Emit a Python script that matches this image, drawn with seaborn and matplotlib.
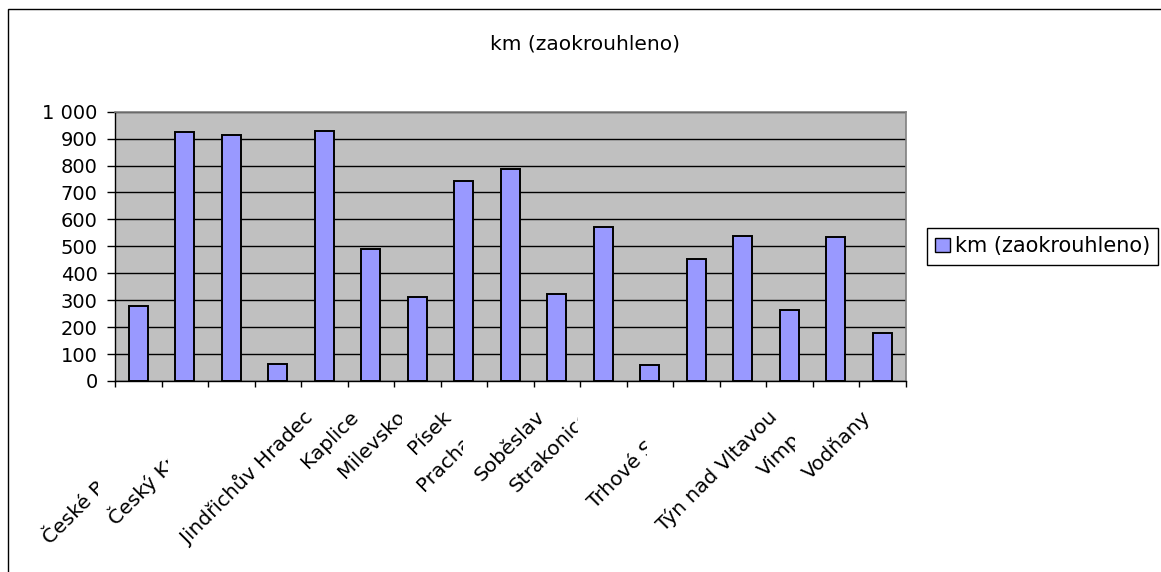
import numpy as np
import pandas as pd
import matplotlib
matplotlib.use("Agg")
import matplotlib.pyplot as plt
import seaborn as sns
from matplotlib.patches import Patch, Rectangle
from matplotlib.transforms import Bbox, offset_copy

# ---------------- data ----------------
categories = ["Blatná", "České Budějovice", "Český Krumlov", "Dačice",
              "Jindřichův Hradec", "Kaplice", "Milevsko", "Písek",
              "Prachatice", "Soběslav", "Strakonice", "Tábor",
              "Trhové Sviny", "Třeboň", "Týn nad Vltavou", "Vimperk", "Vodňany"]
km = [280, 924, 912, 62, 929, 491, 313, 743, 787, 322, 573, 61, 453, 538, 264, 536, 179]
y_ticks = [0, 100, 200, 300, 400, 500, 600, 700, 800, 900, 1000]
series_name = "km (zaokrouhleno)"
title = "km (zaokrouhleno)"

# ---------------- style ----------------
sns.set_theme(style="white")
plt.rcParams["font.family"] = ["DejaVu Sans"]

W, H = 1161, 572
fig = plt.figure(figsize=(W / 100, H / 100), dpi=100)
ax = fig.add_axes([115 / W, 1 - 381 / H, (905.7 - 115) / W, (381 - 111.7) / H])

df = pd.DataFrame({"ORP": categories, "km": km})
sns.barplot(data=df, x="ORP", y="km", order=categories, color="#9999FF",
            saturation=1, edgecolor="black", linewidth=1.4, width=0.41, ax=ax)

ax.set_facecolor("#C0C0C0")
ax.set_xlim(-0.5, len(categories) - 0.5)
ax.set_ylim(0, 1000)
ax.set_yticks(y_ticks)
ax.set_yticklabels([f"{v:,}".replace(",", " ") for v in y_ticks])
ax.set_xticks(np.arange(-0.5, len(categories), 1.0))
ax.set_xticklabels([])
ax.set_xlabel("")
ax.set_ylabel("")
ax.yaxis.grid(True, color="black", linewidth=1.0)
ax.xaxis.grid(False)
ax.set_axisbelow(True)
ax.tick_params(axis="y", left=True, direction="out", length=5.5, width=1,
               color="black", pad=7, labelsize=14, labelcolor="black")
ax.tick_params(axis="x", bottom=True, direction="out", length=4.6, width=1,
               color="black")
for s in ["top", "right"]:
    ax.spines[s].set_color("#808080")
    ax.spines[s].set_linewidth(1.2)
for s in ["left", "bottom"]:
    ax.spines[s].set_color("black")
    ax.spines[s].set_linewidth(1.0)

# category labels (rotated, some truncated / hidden as in the original)
hidden = {0, 3, 11, 13}
clip_px = {1: 98, 2: 168, 6: 402, 8: 463, 10: 578, 12: 647, 15: 795}
tr = offset_copy(ax.get_xaxis_transform(), fig=fig, x=-22, y=-26, units="dots")
for i, name in enumerate(categories):
    if i in hidden:
        continue
    t = fig.text(i, 0, name, transform=tr, rotation=45, rotation_mode="anchor",
                 ha="right", va="top", fontsize=14.5, color="black")
    if i in clip_px:
        t.set_clip_box(Bbox([[0, 0], [clip_px[i], H]]))
        t.set_clip_on(True)

# title
fig.text(585 / W, 1 - 44 / H, title, ha="center", va="center", fontsize=14.5,
         color="black")

# legend
leg = fig.legend(handles=[Patch(facecolor="#9999FF", edgecolor="black", linewidth=1)],
                 labels=[series_name], loc="upper left",
                 bbox_to_anchor=(926.7 / W, 1 - 228 / H), bbox_transform=fig.transFigure,
                 frameon=True, fancybox=False, edgecolor="black", framealpha=1,
                 fontsize=15, handlelength=0.7, handleheight=0.7, handletextpad=0.25,
                 borderpad=0.4, borderaxespad=0)
leg.get_frame().set_linewidth(1.0)
for txt in leg.get_texts():
    txt.set_color("black")

# outer chart border (only left/top visible in the original crop)
fig.add_artist(Rectangle((8 / W, -0.5), 2, (1 - 9 / H) + 0.5, transform=fig.transFigure,
                         fill=False, edgecolor="black", linewidth=1.0))

fig.savefig("out.png", dpi=100, facecolor="white")
